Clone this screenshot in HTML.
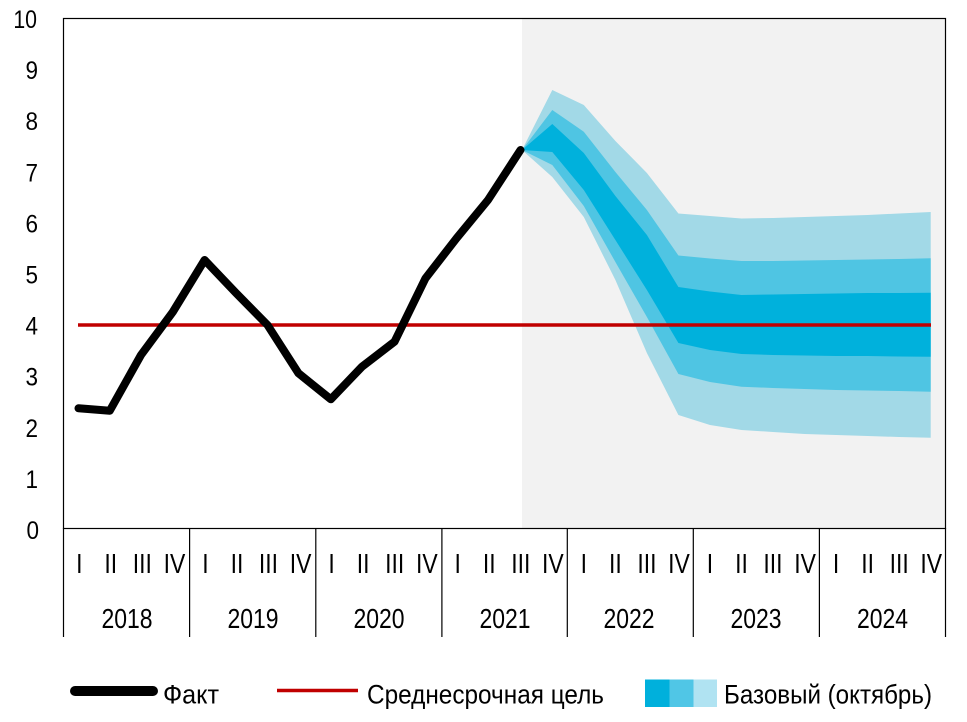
<!DOCTYPE html>
<html>
<head>
<meta charset="utf-8">
<style>
html,body{margin:0;padding:0;background:#fff;}
svg{display:block;}
text{font-family:"Liberation Sans","DejaVu Sans",sans-serif;fill:#000;}
</style>
</head>
<body>
<svg width="967" height="722" viewBox="0 0 967 722" xmlns="http://www.w3.org/2000/svg">
  <!-- forecast background -->
  <rect x="522" y="18.5" width="423.5" height="510" fill="#f2f2f2"/>

  <!-- fan: outer band -->
  <polygon fill="#a2d9e7" points="522,150 552.3,90 583.8,105 615.4,141 646.9,173 678.4,213.5 710,216 741.5,218.5 773,218 804.6,217 836,216 867.6,215 899,213.5 930.7,212 930.7,437.7 899,437 867.6,436 836,435 804.6,434 773,432 741.5,430 710,425 678.4,415 646.9,353 615.4,280 583.8,217 552.3,177"/>
  <!-- fan: middle band -->
  <polygon fill="#4fc5e3" points="522,150 552.3,110 583.8,131.7 615.4,172 646.9,210 678.4,255.5 710,258.5 741.5,261 773,261 804.6,260.5 836,260 867.6,259.5 899,259 930.7,258.3 930.7,391.7 899,391 867.6,390.5 836,390 804.6,389 773,388 741.5,386.7 710,382 678.4,374 646.9,317 615.4,262 583.8,206 552.3,165"/>
  <!-- fan: inner band -->
  <polygon fill="#00b1dc" points="522,150 552.3,124 583.8,153 615.4,196 646.9,235 678.4,287 710,291.5 741.5,295 773,294.5 804.6,294 836,293.5 867.6,293 899,293 930.7,292.7 930.7,356.7 899,356.5 867.6,356 836,356 804.6,355.5 773,355 741.5,354 710,350 678.4,343 646.9,290 615.4,240 583.8,190 552.3,152"/>

  <!-- target line -->
  <line x1="78" y1="325" x2="931" y2="325" stroke="#c00000" stroke-width="3.5"/>

  <!-- fact line -->
  <polyline fill="none" stroke="#000" stroke-width="8" stroke-linejoin="round" stroke-linecap="round"
    points="78.5,408.3 109.8,410.7 141,355 172.8,312 204.6,260 236,293 267.5,325 298.5,373.3 330.8,399.3 362,366.7 394.5,341.7 425.5,278.3 456.5,238.3 488,200 520.5,150"/>

  <!-- frame -->
  <rect x="63.5" y="18.5" width="882" height="510" fill="none" stroke="#000" stroke-width="1.2"/>
  <!-- category separators -->
  <g stroke="#000" stroke-width="1.2">
    <line x1="63.5" y1="528" x2="63.5" y2="637"/>
    <line x1="189.6" y1="528" x2="189.6" y2="637"/>
    <line x1="315.8" y1="528" x2="315.8" y2="637"/>
    <line x1="441.9" y1="528" x2="441.9" y2="637"/>
    <line x1="567.3" y1="528" x2="567.3" y2="637"/>
    <line x1="693.3" y1="528" x2="693.3" y2="637"/>
    <line x1="819.4" y1="528" x2="819.4" y2="637"/>
    <line x1="945.5" y1="528" x2="945.5" y2="637"/>
  </g>

  <!-- y labels -->
  <g font-size="25" text-anchor="end">
    <text transform="translate(37,28) scale(0.85,1)">10</text>
    <text transform="translate(38,79.1) scale(0.9,1)">9</text>
    <text transform="translate(38,130.2) scale(0.9,1)">8</text>
    <text transform="translate(38,181.3) scale(0.9,1)">7</text>
    <text transform="translate(38,232.4) scale(0.9,1)">6</text>
    <text transform="translate(38,283.5) scale(0.9,1)">5</text>
    <text transform="translate(38,334.6) scale(0.9,1)">4</text>
    <text transform="translate(38,385.7) scale(0.9,1)">3</text>
    <text transform="translate(38,436.8) scale(0.9,1)">2</text>
    <text transform="translate(38,487.9) scale(0.9,1)">1</text>
    <text transform="translate(39,539) scale(0.9,1)">0</text>
  </g>

  <!-- quarter labels -->
  <g font-size="28" text-anchor="middle">
    <text transform="translate(79.3,573) scale(0.82,1)">I</text>
    <text transform="translate(110.8,573) scale(0.82,1)">II</text>
    <text transform="translate(142.3,573) scale(0.82,1)">III</text>
    <text transform="translate(174.5,573) scale(0.82,1)">IV</text>

    <text transform="translate(205.4,573) scale(0.82,1)">I</text>
    <text transform="translate(237,573) scale(0.82,1)">II</text>
    <text transform="translate(268.5,573) scale(0.82,1)">III</text>
    <text transform="translate(300.6,573) scale(0.82,1)">IV</text>

    <text transform="translate(331.6,573) scale(0.82,1)">I</text>
    <text transform="translate(363.1,573) scale(0.82,1)">II</text>
    <text transform="translate(394.7,573) scale(0.82,1)">III</text>
    <text transform="translate(426.8,573) scale(0.82,1)">IV</text>

    <text transform="translate(457.7,573) scale(0.82,1)">I</text>
    <text transform="translate(489.2,573) scale(0.82,1)">II</text>
    <text transform="translate(520.8,573) scale(0.82,1)">III</text>
    <text transform="translate(552.9,573) scale(0.82,1)">IV</text>

    <text transform="translate(583.8,573) scale(0.82,1)">I</text>
    <text transform="translate(615.4,573) scale(0.82,1)">II</text>
    <text transform="translate(646.9,573) scale(0.82,1)">III</text>
    <text transform="translate(679,573) scale(0.82,1)">IV</text>

    <text transform="translate(710,573) scale(0.82,1)">I</text>
    <text transform="translate(741.5,573) scale(0.82,1)">II</text>
    <text transform="translate(773,573) scale(0.82,1)">III</text>
    <text transform="translate(805.1,573) scale(0.82,1)">IV</text>

    <text transform="translate(836.1,573) scale(0.82,1)">I</text>
    <text transform="translate(867.6,573) scale(0.82,1)">II</text>
    <text transform="translate(899.2,573) scale(0.82,1)">III</text>
    <text transform="translate(931.2,573) scale(0.82,1)">IV</text>
  </g>

  <!-- year labels -->
  <g font-size="28" text-anchor="middle">
    <text transform="translate(127,628) scale(0.82,1)">2018</text>
    <text transform="translate(253,628) scale(0.82,1)">2019</text>
    <text transform="translate(379,628) scale(0.82,1)">2020</text>
    <text transform="translate(505,628) scale(0.82,1)">2021</text>
    <text transform="translate(629,628) scale(0.82,1)">2022</text>
    <text transform="translate(756,628) scale(0.82,1)">2023</text>
    <text transform="translate(882.5,628) scale(0.82,1)">2024</text>
  </g>

  <!-- legend -->
  <line x1="75" y1="691" x2="153" y2="691" stroke="#000" stroke-width="10" stroke-linecap="round"/>
  <text x="163" y="703.5" font-size="27" textLength="56" lengthAdjust="spacingAndGlyphs">Факт</text>

  <line x1="277" y1="690.5" x2="358" y2="690.5" stroke="#c00000" stroke-width="3.5"/>
  <text x="367" y="703.5" font-size="27" textLength="237" lengthAdjust="spacingAndGlyphs">Среднесрочная цель</text>

  <rect x="645" y="679.5" width="24.5" height="27.5" fill="#00b0dc"/>
  <rect x="669.5" y="679.5" width="24" height="27.5" fill="#50c6e6"/>
  <rect x="693.5" y="679.5" width="23.5" height="27.5" fill="#b0e3f2"/>
  <text x="724" y="703.5" font-size="27" textLength="208" lengthAdjust="spacingAndGlyphs">Базовый (октябрь)</text>
</svg>
</body>
</html>
